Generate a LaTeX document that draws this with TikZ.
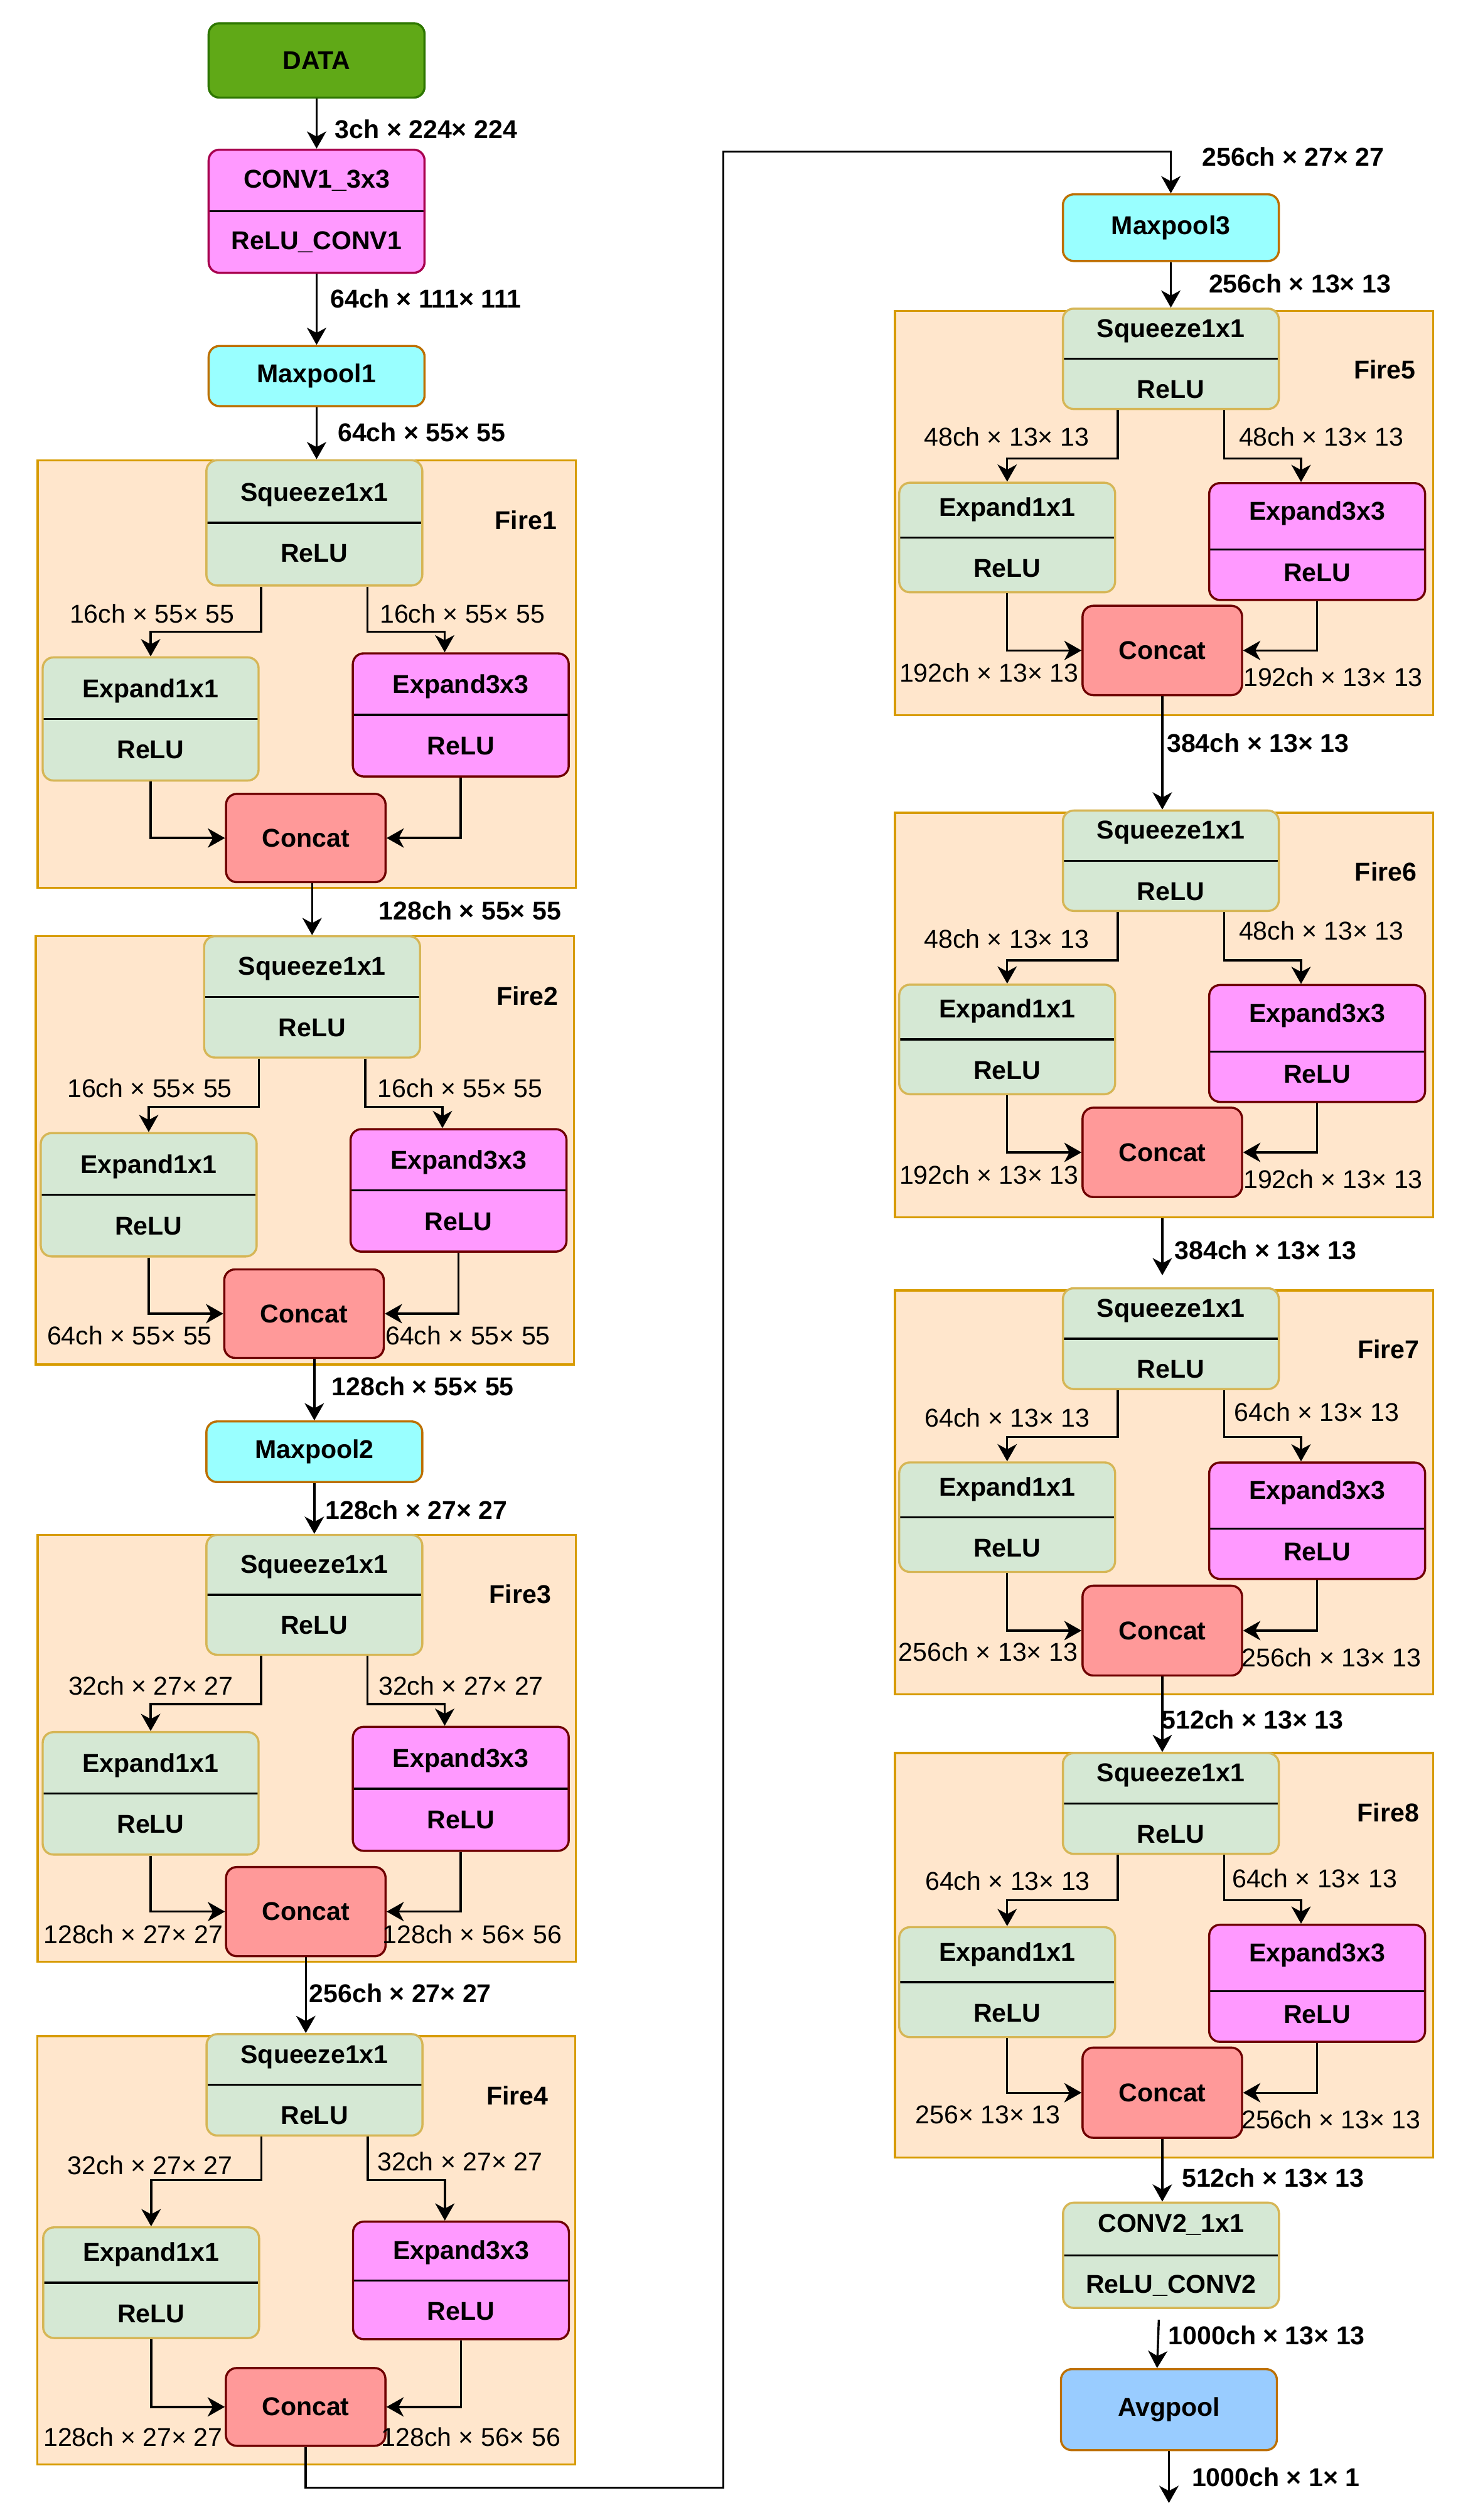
\documentclass[tikz,border=0pt]{standalone}
\usepackage{fontspec}
\setmainfont{Liberation Sans}
\usetikzlibrary{arrows.meta}
\definecolor{datafill}{HTML}{60A917}
\definecolor{dataline}{HTML}{2D7600}
\definecolor{pinkfill}{HTML}{FF99FF}
\definecolor{convline}{HTML}{A8004F}
\definecolor{darkred}{HTML}{6F0000}
\definecolor{cyanfill}{HTML}{99FFFF}
\definecolor{orangeline}{HTML}{BD7000}
\definecolor{sqfill}{HTML}{D5E8D4}
\definecolor{sqline}{HTML}{D6B656}
\definecolor{catfill}{HTML}{FF9999}
\definecolor{firefill}{HTML}{FFE6CC}
\definecolor{fireline}{HTML}{D79B00}
\definecolor{avgfill}{HTML}{99CCFF}
\begin{document}
\begin{tikzpicture}[x=0.75pt, y=-0.75pt,  % squeezenet layers
	onebox/.style={draw, rounded corners=5pt, line width=1pt, minimum width=100.5pt, inner sep=0pt, font=\bfseries\fontsize{12}{14}\selectfont},
	twobox/.style={onebox, align=center, font=\bfseries\fontsize{12}{28.5}\selectfont,
		path picture={\draw[black, line width=1pt] (path picture bounding box.west) -- (path picture bounding box.east);}},
	squeeze/.style={twobox, fill=sqfill, draw=sqline},
	threebox/.style={twobox, fill=pinkfill, draw=darkred},
	threelow/.style={threebox,
		path picture={\draw[black, line width=1pt] ([yshift=-3.75pt]path picture bounding box.west) -- ([yshift=-3.75pt]path picture bounding box.east);}},
	concat/.style={onebox, fill=catfill, draw=darkred, minimum width=74.25pt},
	pool/.style={onebox, fill=cyanfill, draw=orangeline},
	fire/.style={draw=fireline, fill=firefill, line width=1pt, minimum width=250.5pt, inner sep=0pt},
	dims/.style={anchor=west, inner sep=0pt, font=\bfseries\fontsize{12}{14}\selectfont},
	sublabel/.style={anchor=west, inner sep=0pt, font=\fontsize{12}{14}\selectfont},
	firename/.style={anchor=east, inner sep=0pt, font=\bfseries\fontsize{12}{14}\selectfont},
	arr/.style={-{Stealth[length=8pt, width=9pt, inset=2.4pt]}, line width=1pt}]
	\useasboundingbox (0,0) rectangle (911,1564);

	% left column
	\node[onebox, fill=datafill, draw=dataline, minimum height=34.6pt] (data) at (196.5,37.5) {DATA};
	\node[twobox, fill=pinkfill, draw=convline, minimum height=57.3pt] (conv1) at (196.5,131.1) {CONV1\_3x3\\ReLU\_CONV1};
	\node[pool, minimum height=28pt] (pool1) at (196.5,233.4) {Maxpool1};
	\node[dims] (l1) at (207.7,80) {3ch × 224× 224};
	\node[dims] (l2) at (205,185.5) {64ch × 111× 111};
	\node[dims] (l3) at (209.4,268.3) {64ch × 55× 55};
	\draw[arr] (data.south) -- (conv1.north);
	\draw[arr] (conv1.south) -- (pool1.north);

	% fire1
	\node[fire, minimum height=199pt] (fire1) at (190.3,418.3) {};
	\node[squeeze, minimum height=58.3pt] (sq1) at (195.1,324.5) {Squeeze1x1\\ReLU};
	\node[squeeze, minimum height=57.3pt] (one1) at (93.5,446.2) {Expand1x1\\ReLU};
	\node[threebox, minimum height=57.3pt] (three1) at (286,443.7) {Expand3x3\\ReLU};
	\node[concat, minimum height=41.1pt] (cat1) at (189.8,520.1) {Concat};
	\node[firename] (f1) at (345.8,323) {Fire1};
	\node[sublabel] (s1a) at (43,380.7) {16ch × 55× 55};
	\node[sublabel] (s1b) at (235.5,380.7) {16ch × 55× 55};
	\draw[arr] (pool1.south) -- (pool1.south |- sq1.north);
	\draw[arr] ([xshift=-24.75pt]sq1.south) -- ++(0,28) -| (one1.north);
	\draw[arr] ([xshift=24.75pt]sq1.south) -- ++(0,28) -| ([xshift=-7.5pt]three1.north);
	\draw[arr] (one1.south) |- (cat1.west);
	\draw[arr] (three1.south) |- (cat1.east);
	\node[dims] (l4) at (235,565) {128ch × 55× 55};

	% fire2
	\node[fire, minimum height=199.5pt] (fire2) at (189.2,713.9) {};
	\node[squeeze, minimum height=56.5pt] (sq2) at (193.7,618.7) {Squeeze1x1\\ReLU};
	\node[squeeze, minimum height=57.4pt] (one2) at (92.3,741.5) {Expand1x1\\ReLU};
	\node[threebox, minimum height=57pt] (three2) at (284.6,738.8) {Expand3x3\\ReLU};
	\node[concat, minimum height=41.2pt] (cat2) at (188.7,815.3) {Concat};
	\node[firename] (f2) at (346.8,618) {Fire2};
	\node[sublabel] (s2a) at (41.5,675.5) {16ch × 55× 55};
	\node[sublabel] (s2b) at (234.2,675.5) {16ch × 55× 55};
	\node[sublabel] (s2c) at (29,828.8) {64ch × 55× 55};
	\node[sublabel] (s2d) at (239,828.8) {64ch × 55× 55};
	\draw[arr] (sq2.north |- cat1.south) -- (sq2.north);
	\draw[arr] ([xshift=-24.75pt]sq2.south) -- ++(0,30) -| (one2.north);
	\draw[arr] ([xshift=24.75pt]sq2.south) -- ++(0,30) -| ([xshift=-7.5pt]three2.north);
	\draw[arr] (one2.south) |- (cat2.west);
	\draw[arr] (three2.south) |- (cat2.east);

	\node[pool, minimum height=28.2pt] (pool2) at (195.1,901) {Maxpool2};
	\node[dims] (l5) at (205.7,860.4) {128ch × 55× 55};
	\node[dims] (l6) at (201.7,937.3) {128ch × 27× 27};
	\draw[arr] (pool2.north |- cat2.south) -- (pool2.north);

	% fire3
	\node[fire, minimum height=198.6pt] (fire3) at (190.4,1085) {};
	\node[squeeze, minimum height=55.8pt] (sq3) at (195.1,989.8) {Squeeze1x1\\ReLU};
	\node[squeeze, minimum height=57pt] (one3) at (93.5,1113) {Expand1x1\\ReLU};
	\node[threebox, minimum height=57.7pt] (three3) at (286,1110.2) {Expand3x3\\ReLU};
	\node[concat, minimum height=41.5pt] (cat3) at (189.8,1186.4) {Concat};
	\node[firename] (f3) at (342.3,989.3) {Fire3};
	\node[sublabel] (s3a) at (42.2,1046.3) {32ch × 27× 27};
	\node[sublabel] (s3b) at (234.7,1046.3) {32ch × 27× 27};
	\node[sublabel] (s3c) at (26.8,1200.4) {128ch × 27× 27};
	\node[sublabel] (s3d) at (237.2,1200.4) {128ch × 56× 56};
	\draw[arr] (pool2.south) -- (pool2.south |- sq3.north);
	\draw[arr] ([xshift=-24.75pt]sq3.south) -- ++(0,30) -| (one3.north);
	\draw[arr] ([xshift=24.75pt]sq3.south) -- ++(0,30) -| ([xshift=-7.5pt]three3.north);
	\draw[arr] (one3.south) |- (cat3.west);
	\draw[arr] (three3.south) |- (cat3.east);
	\node[dims] (l7) at (191.7,1237) {256ch × 27× 27};

	% fire4
	\node[fire, minimum height=199.5pt] (fire4) at (190.1,1396.6) {};
	\node[squeeze, minimum height=47.2pt] (sq4) at (195.2,1293.9) {Squeeze1x1\\ReLU};
	\node[squeeze, minimum height=51.5pt] (one4) at (93.8,1416.7) {Expand1x1\\ReLU};
	\node[threebox, minimum height=54.7pt] (three4) at (286.1,1415.3) {Expand3x3\\ReLU};
	\node[concat, minimum height=36.2pt] (cat4) at (189.7,1493.8) {Concat};
	\node[firename] (f4) at (340.5,1300.7) {Fire4};
	\node[sublabel] (s4a) at (41.8,1344) {32ch × 27× 27};
	\node[sublabel] (s4b) at (234.1,1341.5) {32ch × 27× 27};
	\node[sublabel] (s4c) at (26.7,1512.4) {128ch × 27× 27};
	\node[sublabel] (s4d) at (236.4,1512.4) {128ch × 56× 56};
	\draw[arr] (cat3.south) -- (cat3.south |- sq4.north);
	\draw[arr] ([xshift=-24.75pt]sq4.south) -- ++(0,27) -| (one4.north);
	\draw[arr] ([xshift=24.75pt]sq4.south) -- ++(0,27) -| ([xshift=-7.5pt]three4.north);
	\draw[arr] (one4.south) |- (cat4.west);
	\draw[arr] (three4.south) |- (cat4.east);

	% right column
	\node[pool, minimum height=31pt] (pool3) at (726.7,141.3) {Maxpool3};
	\coordinate (down) at (449,1544);
	\coordinate (up) at (449,94);
	\draw[arr] (cat4.south) |- (down) -- (up) -| (pool3.north);
	\node[dims] (l8) at (745.9,97.3) {256ch × 27× 27};
	\node[dims] (l9) at (750,176) {256ch × 13× 13};

	% fire5
	\node[fire, minimum height=188.25pt] (fire5) at (722.5,318.4) {};
	\node[squeeze, minimum height=46.7pt] (sq5) at (726.7,222.7) {Squeeze1x1\\ReLU};
	\node[squeeze, minimum height=51pt] (one5) at (625.1,333.6) {Expand1x1\\ReLU};
	\node[threelow, minimum height=54.4pt] (three5) at (817.5,336.1) {Expand3x3\\ReLU};
	\node[concat, minimum height=41.6pt] (cat5) at (721.4,403.7) {Concat};
	\node[firename] (f5) at (878.8,229.4) {Fire5};
	\node[sublabel] (s5a) at (573.3,271) {48ch × 13× 13};
	\node[sublabel] (s5b) at (768.7,271) {48ch × 13× 13};
	\node[sublabel] (s5c) at (558,417.7) {192ch × 13× 13};
	\node[sublabel] (s5d) at (771.5,420.2) {192ch × 13× 13};
	\draw[arr] (pool3.south) -- (sq5.north);
	\draw[arr] ([xshift=-24.75pt]sq5.south) -- ++(0,30) -| (one5.north);
	\draw[arr] ([xshift=24.75pt]sq5.south) -- ++(0,30) -| ([xshift=-7.5pt]three5.north);
	\draw[arr] (one5.south) |- (cat5.west);
	\draw[arr] (three5.south) |- (cat5.east);
	\node[dims] (l10) at (724,461) {384ch × 13× 13};

	% fire6
	\node[fire, minimum height=188.25pt] (fire6) at (722.5,629.9) {};
	\node[squeeze, minimum height=46.7pt] (sq6) at (726.7,534.2) {Squeeze1x1\\ReLU};
	\node[squeeze, minimum height=51pt] (one6) at (625.1,645.1) {Expand1x1\\ReLU};
	\node[threelow, minimum height=54.4pt] (three6) at (817.5,647.6) {Expand3x3\\ReLU};
	\node[concat, minimum height=41.6pt] (cat6) at (721.4,715.2) {Concat};
	\node[firename] (f6) at (879.5,540.9) {Fire6};
	\node[sublabel] (s6a) at (573.3,582.5) {48ch × 13× 13};
	\node[sublabel] (s6b) at (768.7,577.5) {48ch × 13× 13};
	\node[sublabel] (s6c) at (558,729.2) {192ch × 13× 13};
	\node[sublabel] (s6d) at (771.5,731.7) {192ch × 13× 13};
	\draw[arr] (cat5.south) -- (cat5.south |- sq6.north);
	\draw[arr] ([xshift=-24.75pt]sq6.south) -- ++(0,30) -| (one6.north);
	\draw[arr] ([xshift=24.75pt]sq6.south) -- ++(0,30) -| ([xshift=-7.5pt]three6.north);
	\draw[arr] (one6.south) |- (cat6.west);
	\draw[arr] (three6.south) |- (cat6.east);
	\node[dims] (l11) at (728.8,776) {384ch × 13× 13};

	% fire7
	\node[fire, minimum height=188.1pt] (fire7) at (722.5,926.2) {};
	\node[squeeze, minimum height=46.9pt] (sq7) at (726.7,830.8) {Squeeze1x1\\ReLU};
	\node[squeeze, minimum height=51pt] (one7) at (625.1,941.6) {Expand1x1\\ReLU};
	\node[threelow, minimum height=54.2pt] (three7) at (817.5,943.8) {Expand3x3\\ReLU};
	\node[concat, minimum height=41.8pt] (cat7) at (721.4,1012) {Concat};
	\node[firename] (f7) at (881.1,837.5) {Fire7};
	\node[sublabel] (s7a) at (573.8,879.8) {64ch × 13× 13};
	\node[sublabel] (s7b) at (765.9,876.2) {64ch × 13× 13};
	\node[sublabel] (s7c) at (557.4,1025.2) {256ch × 13× 13};
	\node[sublabel] (s7d) at (770.6,1028.7) {256ch × 13× 13};
	\draw[arr, shorten >=6.5pt] (cat6.south |- fire6.south) -- (cat6.south |- fire7.north);
	\draw[arr] ([xshift=-24.75pt]sq7.south) -- ++(0,29) -| (one7.north);
	\draw[arr] ([xshift=24.75pt]sq7.south) -- ++(0,29) -| ([xshift=-7.5pt]three7.north);
	\draw[arr] (one7.south) |- (cat7.west);
	\draw[arr] (three7.south) |- (cat7.east);
	\node[dims] (l12) at (720.6,1067.1) {512ch × 13× 13};

	% fire8
	\node[fire, minimum height=188.25pt] (fire8) at (722.5,1213.5) {};
	\node[squeeze, minimum height=46.9pt] (sq8) at (726.7,1119.3) {Squeeze1x1\\ReLU};
	\node[squeeze, minimum height=51.2pt] (one8) at (625.1,1230.2) {Expand1x1\\ReLU};
	\node[threelow, minimum height=54.5pt] (three8) at (817.5,1230.9) {Expand3x3\\ReLU};
	\node[concat, minimum height=42pt] (cat8) at (721.4,1298.8) {Concat};
	\node[firename] (f8) at (881,1124.8) {Fire8};
	\node[sublabel] (s8a) at (574,1167.5) {64ch × 13× 13};
	\node[sublabel] (s8b) at (764.5,1165.9) {64ch × 13× 13};
	\node[sublabel] (s8c) at (567.9,1312.5) {256× 13× 13};
	\node[sublabel] (s8d) at (770.3,1315.5) {256ch × 13× 13};
	\draw[arr] (cat7.south) -- (cat7.south |- sq8.north);
	\draw[arr] ([xshift=-24.75pt]sq8.south) -- ++(0,28) -| (one8.north);
	\draw[arr] ([xshift=24.75pt]sq8.south) -- ++(0,28) -| ([xshift=-7.5pt]three8.north);
	\draw[arr] (one8.south) |- (cat8.west);
	\draw[arr] (three8.south) |- (cat8.east);

	% output
	\node[squeeze, minimum height=49pt] (conv2) at (726.8,1399.7) {CONV2\_1x1\\ReLU\_CONV2};
	\node[onebox, fill=avgfill, draw=orangeline, minimum height=37.7pt] (avg) at (725.5,1495.5) {Avgpool};
	\coordinate (out) at (725.5,1553.4);
	\draw[arr] (cat8.south) -- (cat8.south |- conv2.north);
	\draw[arr, shorten <=5pt] ([xshift=-5.5pt]conv2.south) -- ([xshift=-5.5pt]avg.north);
	\draw[arr] (avg.south) -- (out);
	\node[dims] (l13) at (733.3,1351.8) {512ch × 13× 13};
	\node[dims] (l14) at (725,1449.5) {1000ch × 13× 13};
	\node[dims] (l15) at (739.5,1537.3) {1000ch × 1× 1};
\end{tikzpicture}
\end{document}
